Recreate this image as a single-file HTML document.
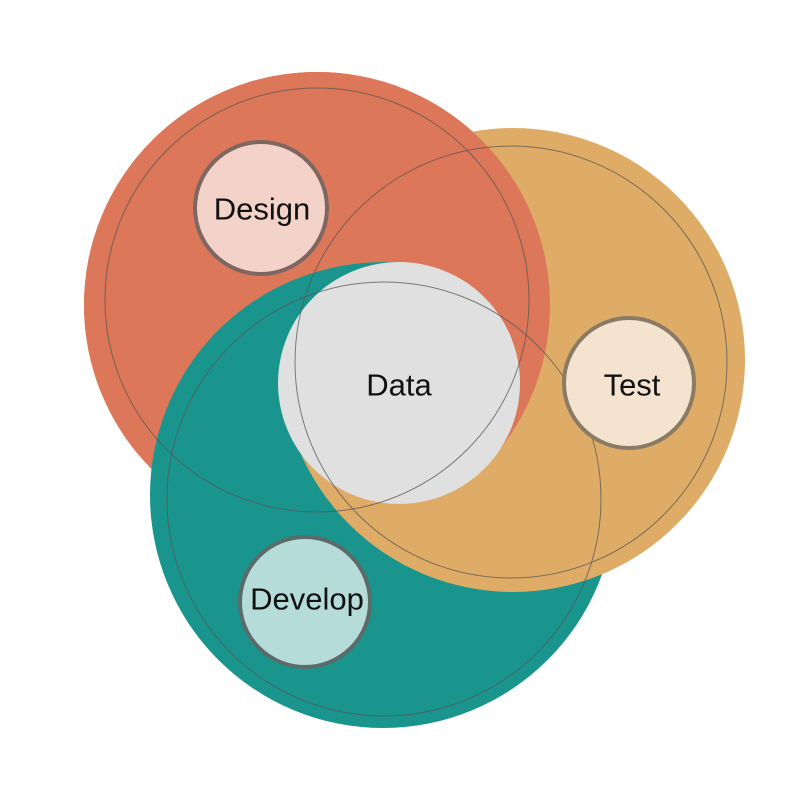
<!DOCTYPE html>
<html><head><meta charset="utf-8"><style>
html,body{margin:0;padding:0;background:#fff;}
svg{display:block;}
text{font-family:"Liberation Sans","DejaVu Sans",sans-serif;font-size:31px;fill:#111;text-anchor:middle;dominant-baseline:central;}
</style></head><body>
<svg width="800" height="800" viewBox="0 0 800 800" xmlns="http://www.w3.org/2000/svg">
<defs>
<clipPath id="left"><rect x="0" y="0" width="420" height="800"/></clipPath>
<mask id="noTeal" maskUnits="userSpaceOnUse" x="0" y="0" width="800" height="800">
<rect x="0" y="0" width="800" height="800" fill="#fff"/>
<circle cx="383" cy="495" r="233" fill="#000" clip-path="url(#left)"/>
</mask>
<clipPath id="tl"><rect x="0" y="0" width="400" height="450"/></clipPath>
<clipPath id="top"><rect x="0" y="0" width="800" height="455"/></clipPath>
</defs>
<circle cx="317" cy="305" r="233" fill="#dd775a"/>
<circle cx="383" cy="495" r="233" fill="#1a958d"/>
<circle cx="513" cy="360" r="232" fill="#deac66"/>
<circle cx="383" cy="495" r="233" fill="#1a958d" clip-path="url(#tl)"/>
<g clip-path="url(#top)"><circle cx="317" cy="305" r="233" fill="#dd775a" mask="url(#noTeal)"/></g>
<circle cx="399" cy="383" r="121" fill="#e0e0e0"/>
<g fill="none" stroke="#555" stroke-opacity="0.75" stroke-width="1">
<circle cx="317" cy="300" r="212"/>
<circle cx="511" cy="362" r="216"/>
<circle cx="384" cy="499" r="217"/>
</g>
<circle cx="261" cy="208" r="66" fill="#f3d2c9" stroke="#7d6760" stroke-width="4"/>
<circle cx="629" cy="383" r="65" fill="#f4e3cf" stroke="#8a7b64" stroke-width="4"/>
<circle cx="305" cy="602" r="65" fill="#b5dcd8" stroke="#5b6b6a" stroke-width="4"/>
<text x="262" y="209">Design</text>
<text x="399" y="385">Data</text>
<text x="632" y="385">Test</text>
<text x="307" y="599">Develop</text>
</svg>
</body></html>
